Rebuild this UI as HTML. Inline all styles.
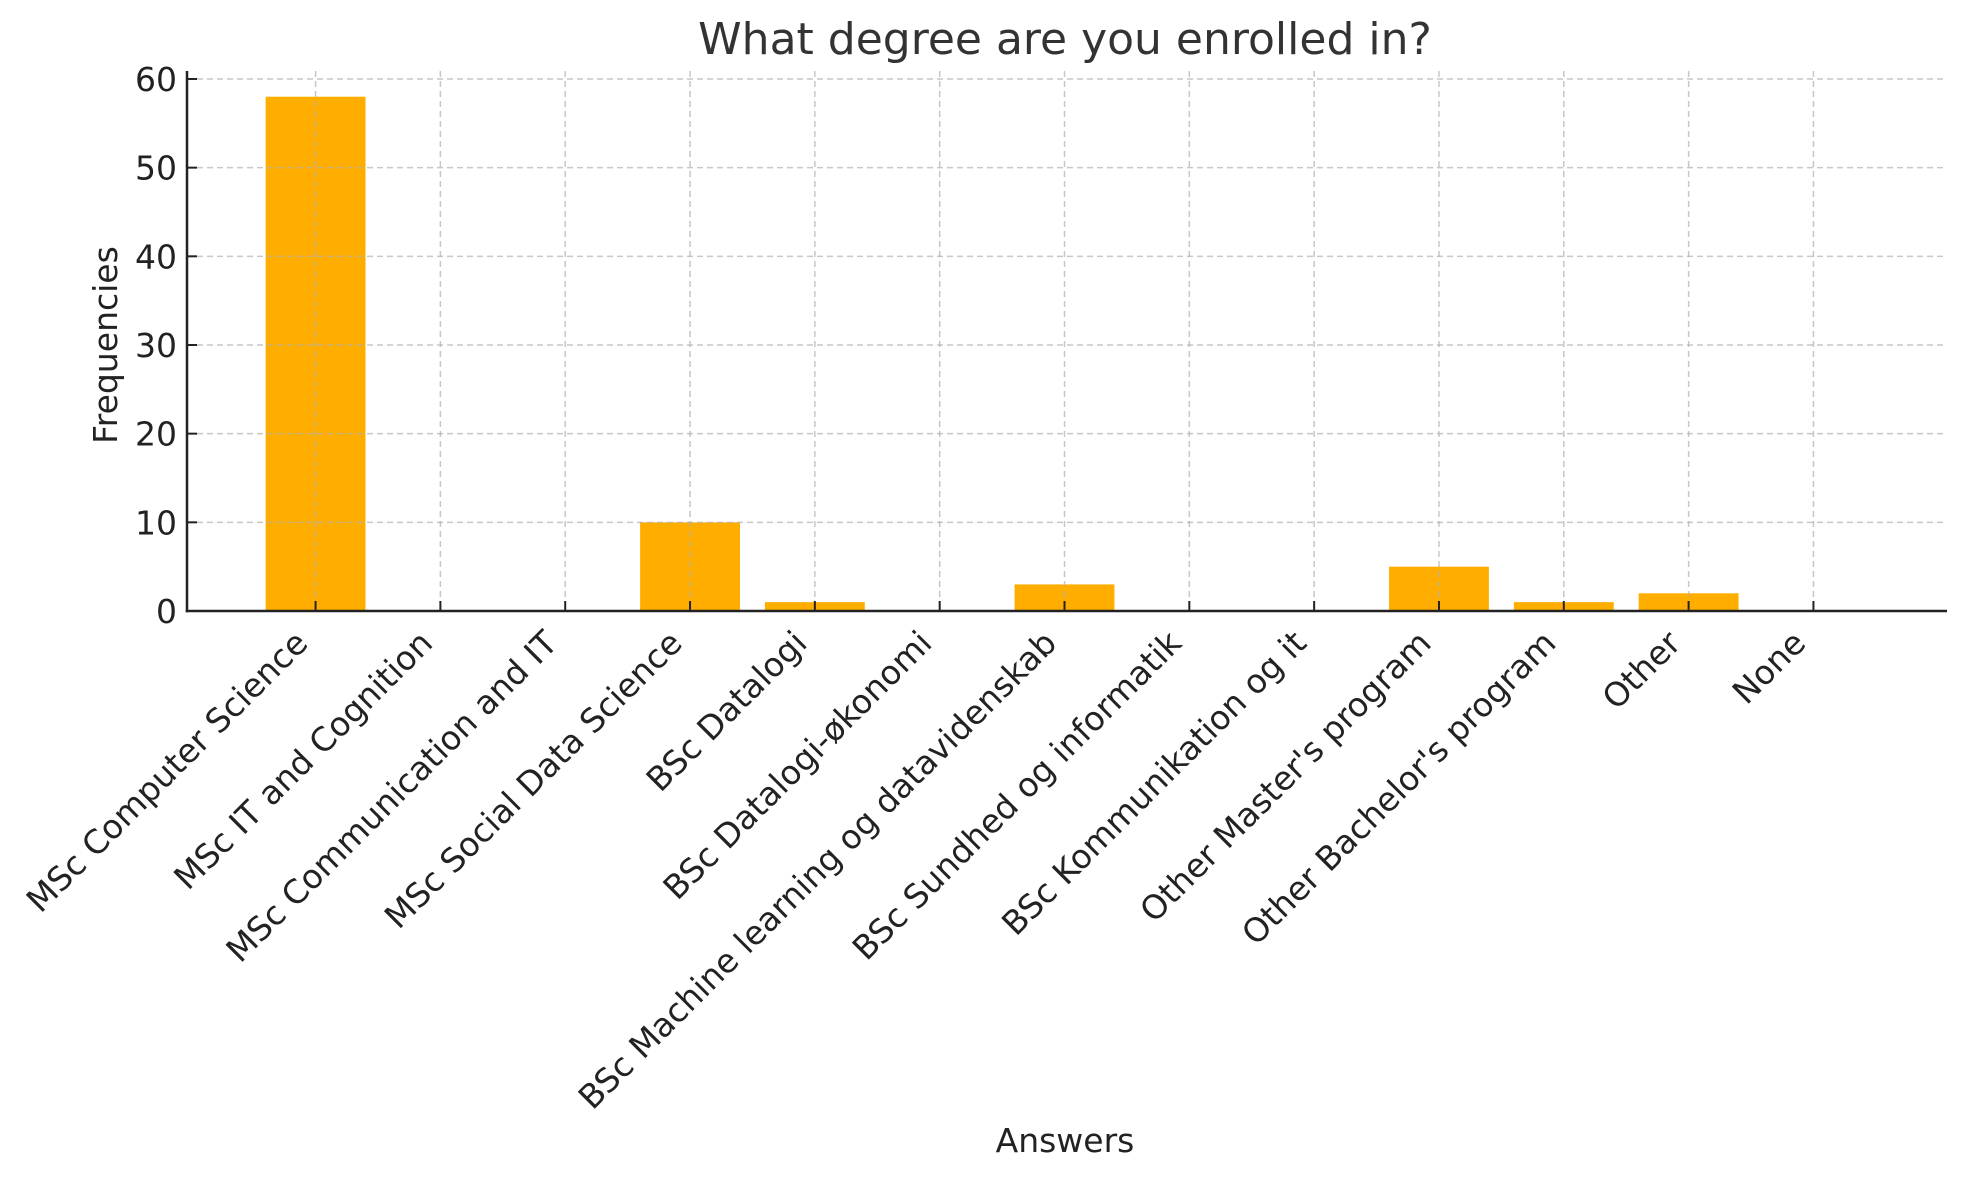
<!DOCTYPE html>
<html><head><meta charset="utf-8"><style>
html,body{margin:0;padding:0;background:#fff;}
svg{display:block;font-family:"DejaVu Sans","Liberation Sans",sans-serif;}
</style></head><body>
<svg id="chart" width="1964" height="1180" viewBox="0 0 1964 1180" xmlns="http://www.w3.org/2000/svg">
<rect width="1964" height="1180" fill="#fff"/>
<text x="1065" y="54" font-size="44" fill="#333" text-anchor="middle">What degree are you enrolled in?</text>
<text transform="translate(117,345) rotate(-90)" font-size="33" fill="#222" text-anchor="middle">Frequencies</text>
<text x="1065" y="1152" font-size="33" fill="#222" text-anchor="middle">Answers</text>
<g id="grid"></g><g id="bars"></g><g id="axes"></g>
</svg>
<script>
const categories = ["MSc Computer Science","MSc IT and Cognition","MSc Communication and IT","MSc Social Data Science","BSc Datalogi","BSc Datalogi-økonomi","BSc Machine learning og datavidenskab","BSc Sundhed og informatik","BSc Kommunikation og it","Other Master's program","Other Bachelor's program","Other","None"];
const values = [58,0,0,10,1,0,3,0,0,5,1,2,0];
const yTicks = [0,10,20,30,40,50,60];

const NS = "http://www.w3.org/2000/svg";
const L = 187, R = 1947, B = 611, T = 71;
const xMin = -1.03, xMax = 13.07, yMax = 60.9;
function xs(i){ return L + (i - xMin) / (xMax - xMin) * (R - L); }
function ys(v){ return B - v / yMax * (B - T); }
const step = xs(1) - xs(0);
function mk(tag, attrs, parent){ const e = document.createElementNS(NS, tag); for (const k in attrs) e.setAttribute(k, attrs[k]); parent.appendChild(e); return e; }
const grid = document.getElementById('grid'), bars = document.getElementById('bars'), axes = document.getElementById('axes');

values.forEach((v, i) => {
  const h = ys(0) - ys(v);
  const r = mk('rect', {x: xs(i) - step*0.4, y: ys(v), width: step*0.8, height: h, fill: '#ffae00'}, bars);
  
  
});
yTicks.forEach(t => {
  const g = mk('line', {x1: L, x2: R, y1: ys(t), y2: ys(t), stroke: '#b0b0b0', 'stroke-width': 1.5, 'stroke-dasharray': '6,4', opacity: 0.7}, grid);
  
  
  const tk = mk('line', {x1: L, x2: L + 10, y1: ys(t), y2: ys(t), stroke: '#222', 'stroke-width': 2}, axes);
  
  
  const lb = mk('text', {x: L - 10, y: ys(t) + 12, 'font-size': 33, fill: '#222', 'text-anchor': 'end'}, axes);
  lb.textContent = t;
  
  
});
categories.forEach((c, i) => {
  const x = xs(i);
  const g = mk('line', {x1: x, x2: x, y1: T, y2: B, stroke: '#b0b0b0', 'stroke-width': 1.5, 'stroke-dasharray': '6,4', opacity: 0.7}, grid);
  
  
  const tk = mk('line', {x1: x, x2: x, y1: B, y2: B - 10, stroke: '#222', 'stroke-width': 2}, axes);
  
  
  const lb = mk('text', {transform: 'translate(' + (x - 6) + ',645) rotate(-45)', 'font-size': 33, fill: '#222', 'text-anchor': 'end'}, axes);
  lb.textContent = c;
  
  
});
grid.parentNode.appendChild(grid);
const ax1 = mk('line', {x1: L, x2: L, y1: T, y2: B + 1.25, stroke: '#222', 'stroke-width': 2.5}, axes);


const ax2 = mk('line', {x1: L - 1.25, x2: R, y1: B, y2: B, stroke: '#222', 'stroke-width': 2.5}, axes);


axes.parentNode.appendChild(axes);
</script>
</body></html>
